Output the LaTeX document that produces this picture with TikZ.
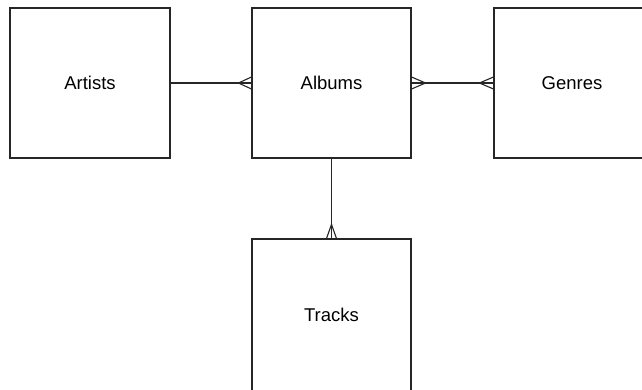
\documentclass[tikz,border=0pt]{standalone}
\usepackage{fontspec}
\setmainfont{Liberation Sans}
\usetikzlibrary{calc}
\begin{document}
\begin{tikzpicture}[x=1pt,y=-1pt,
  entity/.style={draw=black!85,line width=1.1pt,fill=white,rectangle,inner sep=0pt,
    minimum width=159pt,minimum height=150pt},
  entlabel/.style={font=\fontsize{18.5}{22}\selectfont,inner sep=0pt},
  conn/.style={draw=black!85,line width=1.1pt}]
\useasboundingbox (0,0) rectangle (642,389);
\clip (0,0) rectangle (642,389);
\fill[white] (0,0) rectangle (642,389);
\node[entity,minimum width=160pt] (artists) at (90,83) {};
\node[entity] (albums) at (331.5,83) {};
\node[entity,minimum width=166pt] (genres) at (577,83) {};
\node[entity,minimum height=156pt] (tracks) at (331.5,317) {};
\node[entlabel] (tartists) at (artists.center) {Artists};
\node[entlabel] (talbums) at (albums.center) {Albums};
\node[entlabel] (tgenres) at ($(genres.center)+(-5,0)$) {Genres};
\node[entlabel] (ttracks) at ($(tracks.center)+(0,-2)$) {Tracks};
% Artists - Albums
\draw[conn] (artists.east) -- (albums.west);
\draw[conn] ($(albums.west)+(0,-6)$) -- ($(albums.west)+(-13,0)$) -- ($(albums.west)+(0,6)$);
% Albums - Genres
\draw[conn] (albums.east) -- (genres.west);
\draw[conn] ($(albums.east)+(0,-6)$) -- ($(albums.east)+(14,0)$) -- ($(albums.east)+(0,6)$);
\draw[conn] ($(genres.west)+(0,-6)$) -- ($(genres.west)+(-14,0)$) -- ($(genres.west)+(0,6)$);
% Albums - Tracks
\draw[conn] (albums.south) -- (tracks.north);
\draw[conn] ($(tracks.north)+(-5,0)$) -- ($(tracks.north)+(0,-14)$) -- ($(tracks.north)+(5,0)$);
\end{tikzpicture}
\end{document}
